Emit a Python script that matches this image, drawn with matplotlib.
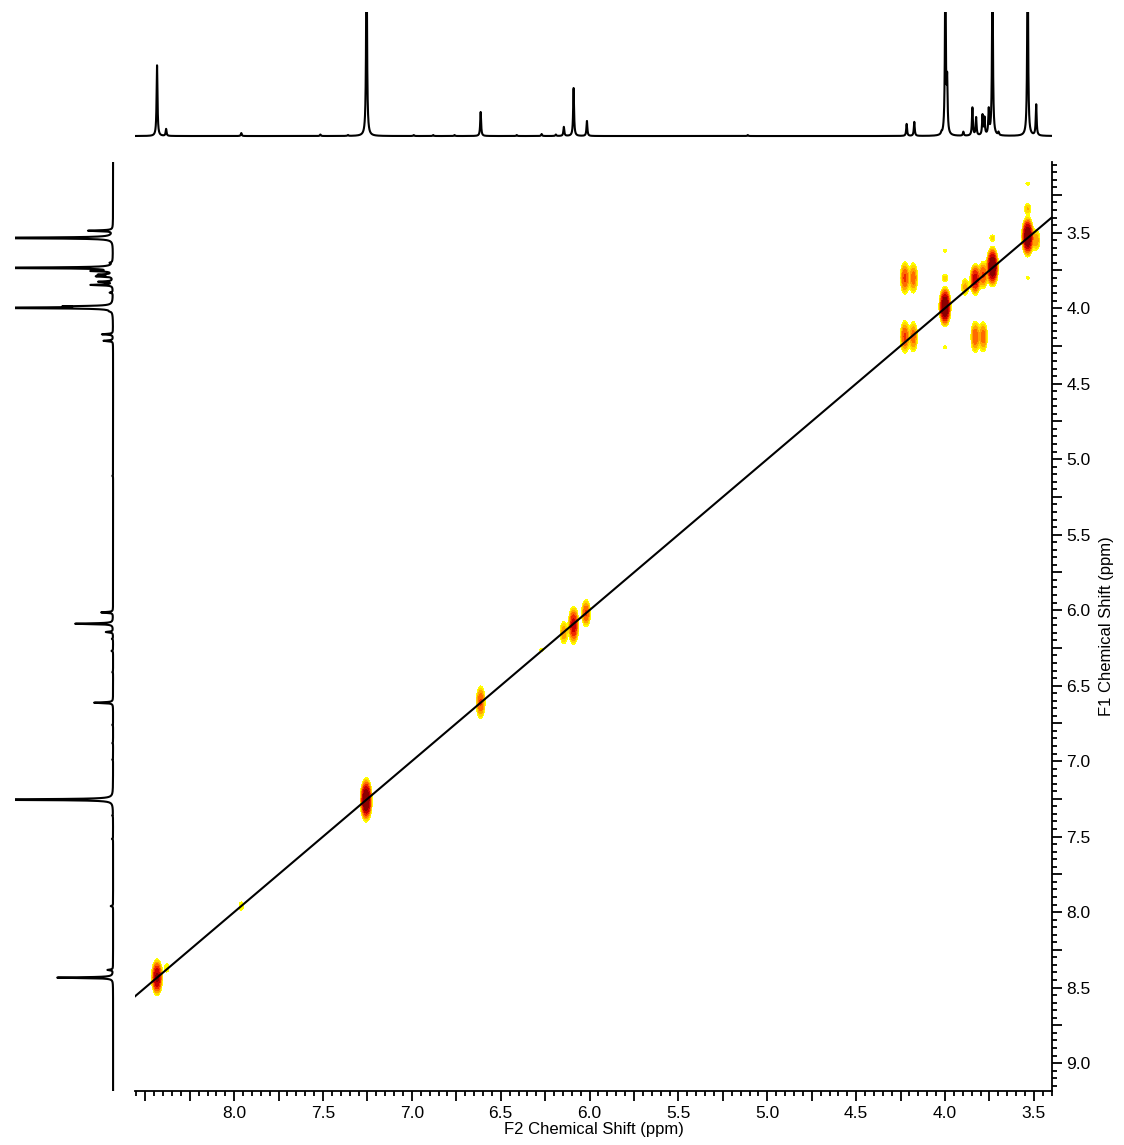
import numpy as np
import matplotlib
matplotlib.use("Agg")
import matplotlib.pyplot as plt
from matplotlib.ticker import MultipleLocator, FuncFormatter

plt.rcParams['font.family'] = ['Liberation Sans', 'DejaVu Sans']

# 1D proton spectrum: peak positions (ppm) and heights (100 = top of the trace box)
peak_ppm = [8.434, 8.383, 7.96, 7.515, 7.36, 7.255, 6.99, 6.88, 6.76, 6.613,
            6.41, 6.27, 6.19, 6.145, 6.09, 6.015, 5.11, 4.216, 4.173, 4.02,
            3.998, 3.988, 3.897, 3.846, 3.825, 3.789, 3.778, 3.754, 3.733,
            3.699, 3.535, 3.487]
peak_height = [57, 5.6, 2.4, 1.2, 0.8, 160, 0.8, 0.8, 0.8, 19.4,
               0.8, 1.6, 1.2, 7.3, 38.7, 12.1, 0.8, 9.7, 11.3, 1.6,
               140, 40, 3.2, 22.6, 14.5, 16, 13.7, 20, 140,
               2.4, 160, 25]

# 2D COSY peaks: F2 (x), F1 (y), amplitude, F1 width
cosy_f2 = [8.434, 8.380, 7.960, 7.257, 6.613, 6.270, 6.145, 6.090, 6.020,
           4.226, 4.178, 4.226, 4.178, 4.000, 4.000, 4.000, 4.000,
           3.887, 3.830, 3.785, 3.830, 3.785, 3.733, 3.733,
           3.535, 3.535, 3.535, 3.535, 3.487]
cosy_f1 = [8.433, 8.370, 7.960, 7.257, 6.610, 6.264, 6.150, 6.100, 6.020,
           3.800, 3.800, 4.190, 4.190, 3.990, 3.800, 3.620, 4.260,
           3.860, 3.810, 3.780, 4.190, 4.190, 3.725, 3.535,
           3.527, 3.340, 3.175, 3.800, 3.550]
cosy_amp = [12, 1.5, 1.5, 20, 5, 1.3, 3, 9, 5,
            5, 4, 5, 4, 20, 1.8, 1.3, 1.3,
            2.5, 9, 5, 4.5, 4, 20, 1.6,
            20, 2.2, 1.3, 1.25, 3]
cosy_w1 = [0.055, 0.03, 0.03, 0.06, 0.06, 0.012, 0.05, 0.06, 0.05,
           0.06, 0.06, 0.06, 0.06, 0.055, 0.02, 0.012, 0.014,
           0.04, 0.05, 0.05, 0.06, 0.06, 0.055, 0.02,
           0.055, 0.025, 0.014, 0.012, 0.045]

x_lim = (8.558, 3.398)
y_lim = (9.185, 3.032)

fig = plt.figure(figsize=(11.24, 11.45), dpi=100)
ax = fig.add_axes([135 / 1124, 1 - 1091 / 1145, 917 / 1124, 929 / 1145])
ax_top = fig.add_axes([135 / 1124, 1 - 140 / 1145, 917 / 1124, 128 / 1145])
ax_left = fig.add_axes([15 / 1124, 1 - 1091 / 1145, 102 / 1124, 929 / 1145])

# 1D trace from Lorentzian lines
ppm = np.linspace(x_lim[0], x_lim[1], 30000)
hw = 0.003
spec = np.zeros_like(ppm)
for p, h in zip(peak_ppm, peak_height):
    spec += h * hw ** 2 / ((ppm - p) ** 2 + hw ** 2)

ax_top.plot(ppm, spec, color='black', lw=1.5)
ax_top.set_xlim(x_lim)
ax_top.set_ylim(-3.2, 100)
ax_top.axis('off')

ppm_y = np.linspace(y_lim[1], y_lim[0], 30000)
spec_y = np.zeros_like(ppm_y)
for p, h in zip(peak_ppm, peak_height):
    spec_y += h * hw ** 2 / ((ppm_y - p) ** 2 + hw ** 2)
ax_left.plot(spec_y, ppm_y, color='black', lw=1.5)
ax_left.set_xlim(100, -4)
ax_left.set_ylim(y_lim)
ax_left.axis('off')

# 2D contour map
gx = np.linspace(x_lim[1], x_lim[0], 2800)
gy = np.linspace(y_lim[1], y_lim[0], 1400)
sx = 0.014
Gx = np.array([np.exp(-0.5 * ((gx - c) / sx) ** 2) for c in cosy_f2])
Gy = np.array([a * np.exp(-0.5 * ((gy - c) / w) ** 2)
               for c, a, w in zip(cosy_f1, cosy_amp, cosy_w1)])
Z = Gy.T @ Gx

levels = [1, 1.5, 2.2, 3.2, 4.7, 7, 10.5, 1e4]
colors = ['#ffff00', '#ffd800', '#ffa400', '#ff6a00', '#f02800', '#c80000', '#8c0000']
ax.contourf(gx, gy, Z, levels=levels, colors=colors)

ax.plot(x_lim, x_lim, color='black', lw=1.5)

ax.set_xlim(x_lim)
ax.set_ylim(y_lim)
for s in ['left', 'top']:
    ax.spines[s].set_visible(False)
for s in ['bottom', 'right']:
    ax.spines[s].set_linewidth(1.3)


def lab(v, pos):
    if abs(v * 2 - round(v * 2)) > 1e-6 or v > 8.3:
        return ""
    return f"{v:.1f}"


ax.xaxis.set_major_locator(MultipleLocator(0.25))
ax.xaxis.set_minor_locator(MultipleLocator(0.05))
ax.yaxis.set_major_locator(MultipleLocator(0.25))
ax.yaxis.set_minor_locator(MultipleLocator(0.05))
ax.xaxis.set_major_formatter(FuncFormatter(lab))
ax.yaxis.set_major_formatter(FuncFormatter(lambda v, p: f"{v:.1f}" if abs(v * 2 - round(v * 2)) < 1e-6 else ""))
ax.yaxis.tick_right()
ax.yaxis.set_label_position('right')
ax.tick_params(which='major', direction='out', length=7, width=1.3, labelsize=12.5, colors='black')
ax.tick_params(which='minor', direction='out', length=3.5, width=1.3)
ax.tick_params(axis='y', which='both', left=False, right=True)
ax.tick_params(axis='x', which='both', top=False, bottom=True)

ax.set_xlabel('F2 Chemical Shift (ppm)', fontsize=12, labelpad=1)
ax.set_ylabel('F1 Chemical Shift (ppm)', fontsize=12, labelpad=6)

fig.savefig('out.png', dpi=100)
